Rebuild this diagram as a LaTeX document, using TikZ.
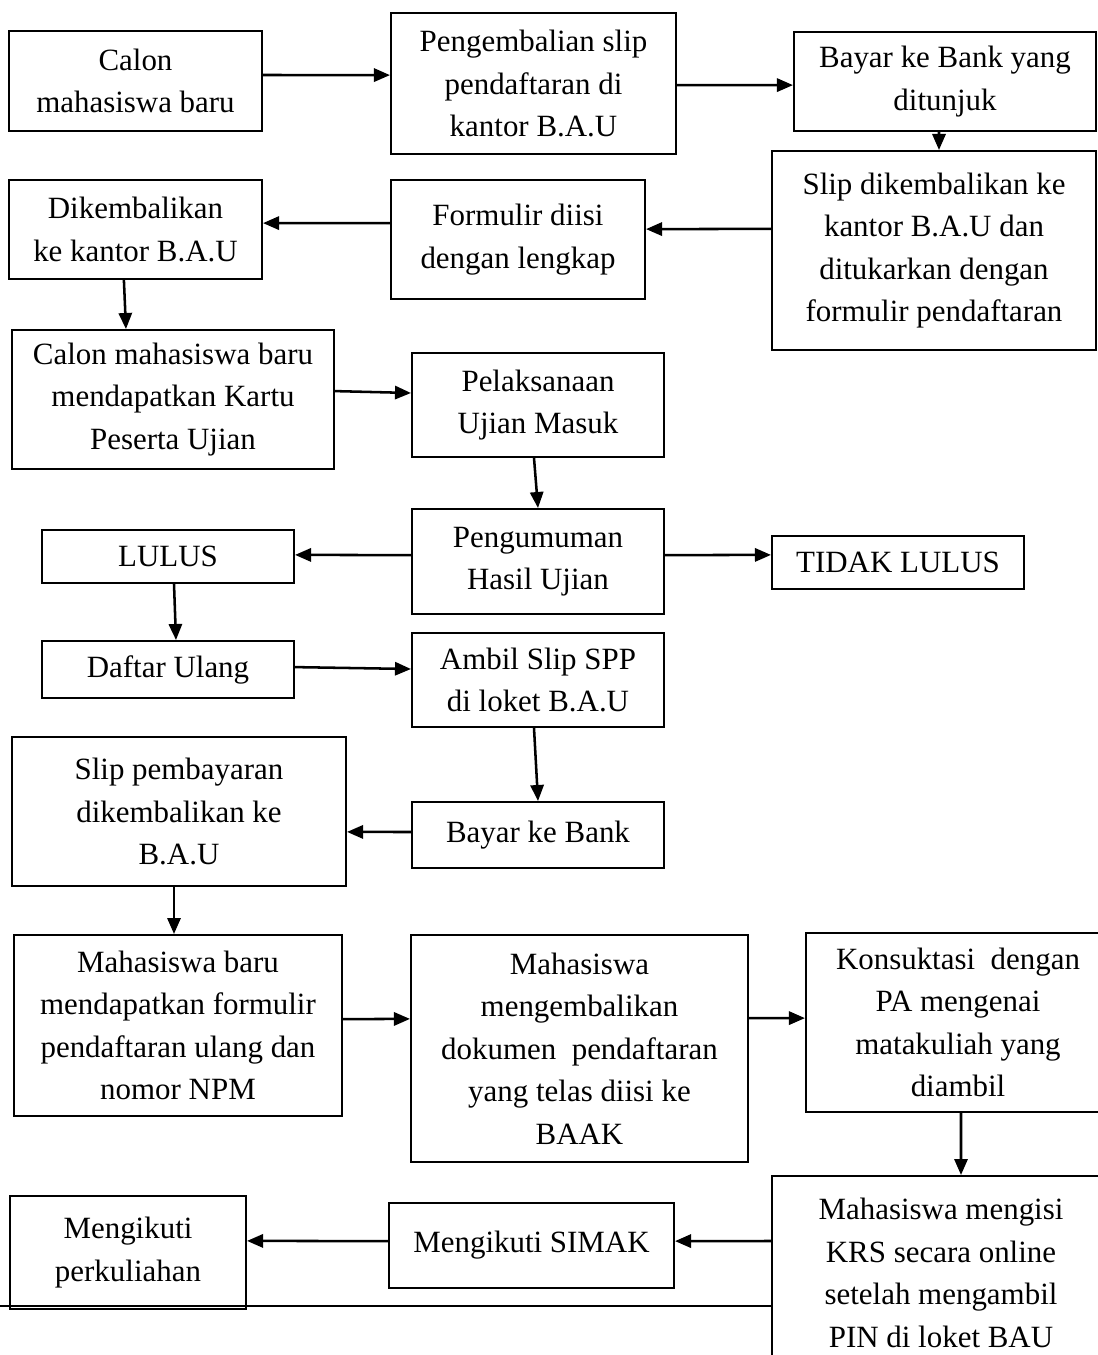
\documentclass[tikz,border=0pt]{standalone}
\usepackage{fontspec}
\setmainfont{Liberation Serif}
\usetikzlibrary{arrows.meta}

\begin{document}
\begin{tikzpicture}[->,>={Triangle[length=0.4cm,width=0.33cm]},line width=1.8pt,
		x=0.025cm,y=-0.025cm,
		proc node/.style={rectangle,draw,line width=1.4pt,align=center,inner sep=0pt,
			font=\fontsize{22}{30.2}\selectfont}]
		
		\useasboundingbox (0,0) rectangle (1098,1355);
		
		\node[proc node,minimum width=6.325cm,minimum height=2.5cm] (calon) at (135.5,81) {Calon\\mahasiswa baru};
		\node[proc node,minimum width=7.125cm,minimum height=3.525cm] (kembali) at (533.5,83.5) {Pengembalian slip\\pendaftaran di\\kantor B.A.U};
		\node[proc node,minimum width=7.55cm,minimum height=2.475cm] (bank) at (945,81.5) {Bayar ke Bank yang\\ditunjuk};
		\node[proc node,minimum width=8.1cm,minimum height=4.975cm] (slip) at (934,250.5) {Slip dikembalikan ke\\kantor B.A.U dan\\ditukarkan dengan\\formulir pendaftaran};
		\node[proc node,minimum width=6.35cm,minimum height=2.975cm] (formulir) at (518,239.5) {Formulir diisi\\dengan lengkap};
		\node[proc node,minimum width=6.325cm,minimum height=2.475cm] (dik) at (135.5,229.5) {Dikembalikan\\ke kantor B.A.U};
		\node[proc node,minimum width=8.05cm,minimum height=3.475cm] (kartu) at (173,399.5) {Calon mahasiswa baru\\mendapatkan Kartu\\Peserta Ujian};
		\node[proc node,minimum width=6.3cm,minimum height=2.6cm] (ujian) at (538,405) {Pelaksanaan\\Ujian Masuk};
		\node[proc node,minimum width=6.3cm,minimum height=2.625cm] (umum) at (538,561.5) {Pengumuman\\Hasil Ujian};
		\node[proc node,minimum width=6.3cm,minimum height=1.325cm] (lulus) at (168,556.5) {LULUS};
		\node[proc node,minimum width=6.3cm,minimum height=1.325cm] (tidak) at (898,562.5) {TIDAK LULUS};
		\node[proc node,minimum width=6.3cm,minimum height=1.425cm] (daftar) at (168,669.5) {Daftar Ulang};
		\node[proc node,minimum width=6.3cm,minimum height=2.35cm] (ambil) at (538,680) {Ambil Slip SPP\\di loket B.A.U};
		\node[proc node,minimum width=8.35cm,minimum height=3.725cm] (bayar) at (179,811.5) {Slip pembayaran\\dikembalikan ke\\B.A.U};
		\node[proc node,minimum width=6.3cm,minimum height=1.65cm] (banklagi) at (538,835) {Bayar ke Bank};
		\node[proc node,minimum width=8.2cm,minimum height=4.525cm] (npm) at (178,1025.5) {Mahasiswa baru\\mendapatkan formulir\\pendaftaran ulang dan\\nomor NPM};
		\node[proc node,minimum width=8.425cm,minimum height=5.675cm] (baak) at (579.5,1048.5) {Mahasiswa\\mengembalikan\\dokumen\ \ pendaftaran\\yang telas diisi ke\\BAAK};
		\node[proc node,minimum width=7.6cm,minimum height=4.475cm] (pa) at (958,1022.5) {Konsuktasi\ \ dengan\\PA mengenai\\matakuliah yang\\diambil};
		\node[proc node,minimum width=8.45cm,minimum height=4.85cm] (krs) at (941,1273) {Mahasiswa mengisi\\KRS secara online\\setelah mengambil\\PIN di loket BAU};
		\node[proc node,minimum width=7.125cm,minimum height=2.125cm] (simak) at (531.5,1245.5) {Mengikuti SIMAK};
		\node[proc node,minimum width=5.9cm,minimum height=2.825cm] (kuliah) at (128,1252.5) {Mengikuti\\perkuliahan};
		
		\coordinate (foot) at (0,1306);
		\draw[-,line width=1.4pt] (foot) -- (foot -| krs.west);
		
		\path
		([yshift=.15cm]calon.east) edge ([yshift=.21cm]kembali.west)
		([yshift=-.04cm]kembali.east) edge ([yshift=-.09cm]bank.west)
		([xshift=-.15cm]bank.south) edge ([xshift=.125cm]slip.north)
		([yshift=.54cm]slip.west) edge ([yshift=.26cm]formulir.east)
		([yshift=.41cm]formulir.west) edge ([yshift=.16cm]dik.east)
		([xshift=-.29cm]dik.south) edge ([xshift=-1.175cm]kartu.north)
		([yshift=.21cm]kartu.east) edge ([yshift=.3cm]ujian.west)
		([xshift=-.1cm]ujian.south) edge (umum.north)
		([yshift=.16cm]umum.west) edge ([yshift=.04cm]lulus.east)
		([yshift=.16cm]umum.east) edge ([yshift=.19cm]tidak.west)
		([xshift=.15cm]lulus.south) edge ([xshift=.2cm]daftar.north)
		([yshift=.06cm]daftar.east) edge ([yshift=.275cm]ambil.west)
		([xshift=-.1cm]ambil.south) edge (banklagi.north)
		([yshift=.075cm]banklagi.west) edge ([yshift=-.51cm]bayar.east)
		([xshift=-.125cm]bayar.south) edge ([xshift=-.1cm]npm.north)
		([yshift=.16cm]npm.east) edge ([yshift=.74cm]baak.west)
		([yshift=.76cm]baak.east) edge ([yshift=.11cm]pa.west)
		([xshift=.075cm]pa.south) edge ([xshift=.5cm]krs.north)
		([yshift=.8cm]krs.west) edge ([yshift=.11cm]simak.east)
		([yshift=.11cm]simak.west) edge ([yshift=.29cm]kuliah.east)
		;
\end{tikzpicture}
\end{document}
